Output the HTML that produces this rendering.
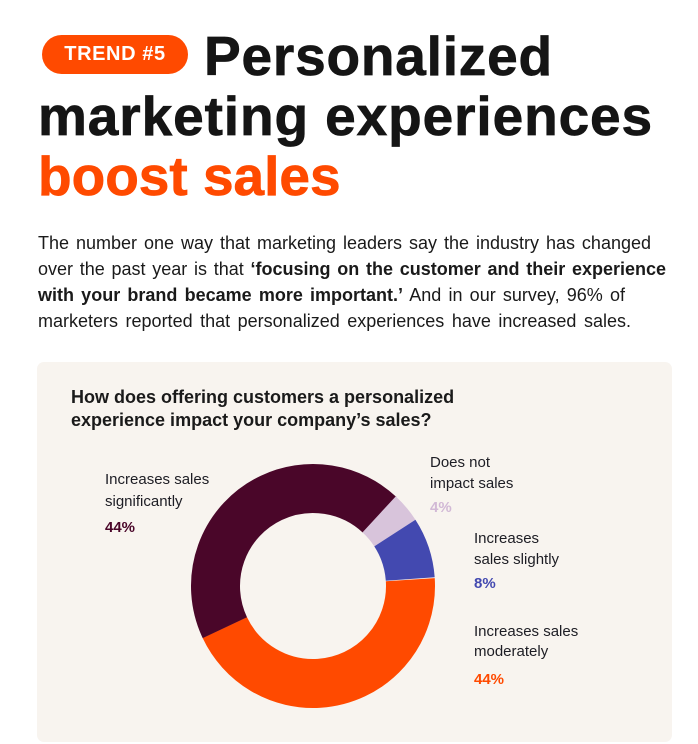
<!DOCTYPE html>
<html>
<head>
<meta charset="utf-8">
<style>
  html,body{margin:0;padding:0;background:#fff;}
  body{width:698px;height:744px;position:relative;overflow:hidden;font-family:"Liberation Sans",Arial,sans-serif;color:#161616;}
  .abs{position:absolute;}
  .pill{left:42px;top:35px;width:146px;height:39px;border-radius:20px;background:#ff4a00;color:#fff;font-weight:bold;font-size:20px;letter-spacing:0.6px;line-height:39px;text-align:center;}
  .h1{font-weight:bold;font-size:55px;line-height:60px;white-space:nowrap;color:#151515;-webkit-text-stroke:0.7px currentColor;}
  .orange{color:#ff4a00;}
  .para{left:38px;top:229.8px;font-size:18px;line-height:26px;color:#1a1a1a;}
  .para div{text-align:justify;text-align-last:justify;}
  .card{left:37px;top:362px;width:635px;height:380px;border-radius:7px;background:#f8f4ef;}
  .q{left:71px;top:386.3px;font-weight:bold;font-size:18px;line-height:23px;color:#1a1a1a;white-space:nowrap;}
  .lab{font-size:15px;line-height:22px;color:#1d1d24;white-space:nowrap;}
  .pct{font-size:15px;line-height:22px;font-weight:bold;white-space:nowrap;}
</style>
</head>
<body>
<div class="abs pill">TREND #5</div>
<div class="abs h1" style="left:204px;top:26px;letter-spacing:0.8px;">Personalized</div>
<div class="abs h1" style="left:38px;top:86px;letter-spacing:0.9px;">marketing experiences</div>
<div class="abs h1 orange" style="left:38px;top:146px;">boost sales</div>

<div class="abs para">
  <div style="width:613px;">The number one way that marketing leaders say the industry has changed</div>
  <div style="width:628px;">over the past year is that <b>‘focusing on the customer and their experience</b></div>
  <div style="width:587px;"><b>with your brand became more important.’</b> And in our survey, 96% of</div>
  <div style="width:593px;">marketers reported that personalized experiences have increased sales.</div>
</div>

<div class="abs card"></div>
<div class="abs q">How does offering customers a personalized<br>experience impact your company’s sales?</div>

<svg class="abs" style="left:0;top:0;" width="698" height="744" viewBox="0 0 698 744">
  <g fill="none" stroke-width="49">
    <circle cx="313" cy="586" r="97.5" stroke="#ff4a00" stroke-dasharray="269.55 612.61" transform="rotate(-3.7 313 586)"/>
    <circle cx="313" cy="586" r="97.5" stroke="#4a0629" stroke-dasharray="269.55 612.61" transform="rotate(154.7 313 586)"/>
    <circle cx="313" cy="586" r="97.5" stroke="#d8c4db" stroke-dasharray="24.5 612.61" transform="rotate(312.7 313 586)"/>
    <circle cx="313" cy="586" r="97.5" stroke="#4349b0" stroke-dasharray="49.01 612.61" transform="rotate(327.1 313 586)"/>
  </g>
</svg>

<div class="abs lab" style="left:105px;top:468.8px;">Increases sales<br>significantly</div>
<div class="abs pct" style="left:105px;top:516.8px;color:#4a0629;">44%</div>

<div class="abs lab" style="left:430px;top:451.8px;line-height:21px;">Does not<br>impact sales</div>
<div class="abs pct" style="left:430px;top:496.8px;color:#d2b9d6;">4%</div>

<div class="abs lab" style="left:474px;top:527.8px;line-height:21px;">Increases<br>sales slightly</div>
<div class="abs pct" style="left:474px;top:572.8px;color:#4349b0;">8%</div>

<div class="abs lab" style="left:474px;top:621.8px;line-height:20.5px;">Increases sales<br>moderately</div>
<div class="abs pct" style="left:474px;top:668.8px;color:#ff4a00;">44%</div>
</body>
</html>
